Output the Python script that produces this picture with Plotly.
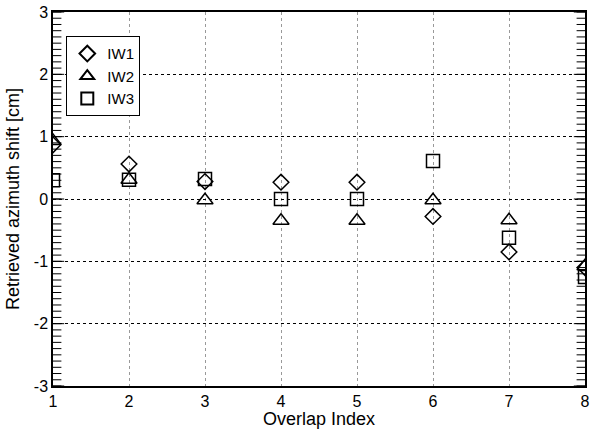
import plotly.graph_objects as go

overlap_index = [1, 2, 3, 4, 5, 6, 7, 8]
iw1_shift = [0.87, 0.56, 0.28, 0.27, 0.27, -0.28, -0.85, -1.10]
iw2_shift = [0.93, 0.31, -0.02, -0.35, -0.35, -0.02, -0.34, -1.08]
iw3_shift = [0.30, 0.31, 0.32, 0.00, 0.00, 0.61, -0.62, -1.25]

y_tick_vals = [-3, -2, -1, 0, 1, 2, 3]
y_tick_text = ["-3", "-2", "-1", "0", "1", "2", "3"]
y_range = [-3, 3]
x_range = [1, 8]
minor_step = 0.1

series = [
    ("IW1", iw1_shift, "diamond-open", 12),
    ("IW2", iw2_shift, "triangle-up-open", 14),
    ("IW3", iw3_shift, "square-open", 13),
]

FAMILY = "Liberation Sans"

fig = go.Figure()
for name, vals, sym, size in series:
    fig.add_trace(go.Scatter(
        x=overlap_index, y=vals, name=name, mode="markers",
        marker=dict(symbol=sym, size=size, color="black",
                    line=dict(color="black", width=1.5)),
    ))

# Fine tick marks along both vertical frame edges: short horizontal
# line markers centred on the frame, clipped so only the inner half shows.
n_minor = int(round((y_range[1] - y_range[0]) / minor_step))
minor_pos = [round(y_range[0] + k * minor_step, 1) for k in range(n_minor + 1)]
for edge in x_range:
    for pos, size in ((minor_pos, 12), (y_tick_vals, 16)):
        fig.add_trace(go.Scatter(
            x=[edge] * len(pos), y=pos, mode="markers",
            marker=dict(symbol="line-ew", size=size,
                        line=dict(color="black", width=1)),
            showlegend=False, hoverinfo="skip", cliponaxis=True,
        ))

fig.update_layout(
    width=594, height=429,
    margin=dict(l=53, r=4, t=10, b=43),
    plot_bgcolor="white",
    font=dict(family=FAMILY, size=15, color="black"),
    legend=dict(x=0.025, y=0.935, xanchor="left", yanchor="top",
                bordercolor="black", borderwidth=1, bgcolor="white",
                itemsizing="constant", tracegroupgap=2),
    xaxis=dict(
        range=x_range, dtick=1, tick0=1,
        showgrid=True, gridcolor="#999999", griddash="dot",
        showline=True, linecolor="black", linewidth=1.5, mirror=True,
        zeroline=False, tickfont=dict(size=16),
        title=dict(text="Overlap Index", standoff=2),
    ),
    yaxis=dict(
        range=y_range, tickmode="array",
        tickvals=y_tick_vals, ticktext=y_tick_text,
        showgrid=True, gridcolor="black", griddash="dot",
        showline=True, linecolor="black", linewidth=1.5, mirror=True,
        zeroline=False, tickfont=dict(size=16),
        title=dict(text="Retrieved azimuth shift [cm]", standoff=10),
    ),
)

fig.write_html("out.html")
